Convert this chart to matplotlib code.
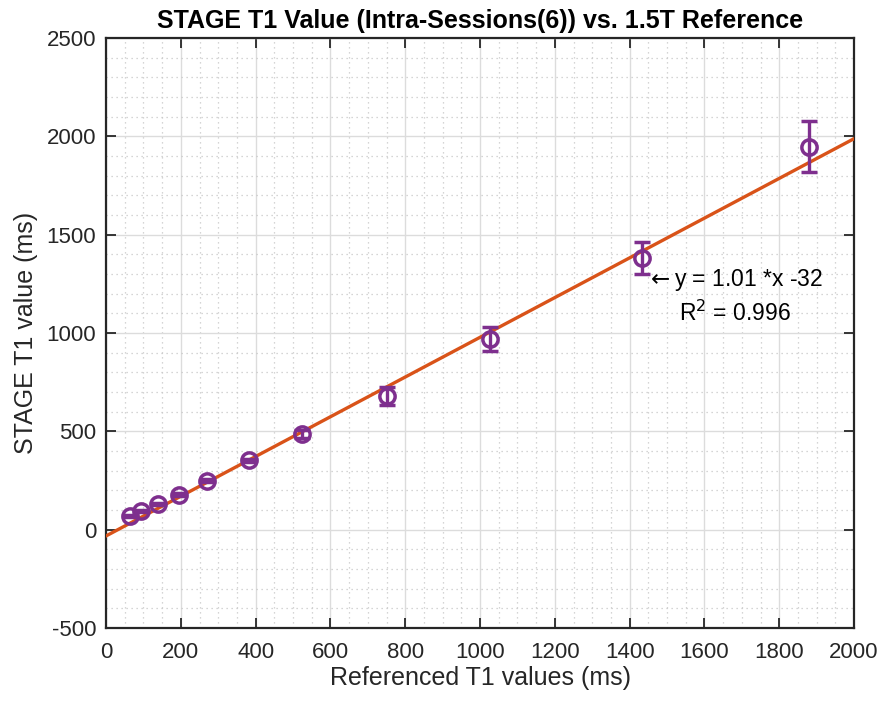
import numpy as np
import matplotlib.pyplot as plt
from matplotlib.ticker import MultipleLocator

# reference T1 (1.5T) vs STAGE T1 measured values
ref_t1 = [64, 94, 138, 194, 271, 383, 525, 751, 1028, 1433, 1879]
stage_t1 = [71, 93, 131, 178, 249, 352, 487, 681, 968, 1383, 1948]
stage_sd = [5, 5, 6, 6, 7, 8, 22, 45, 60, 82, 130]

fit_slope = 1.01
fit_icpt = -32
fit_x = [0, 2000]

purple = '#7E2F8E'
orange = '#D95319'

plt.rcParams['font.family'] = ['Liberation Sans', 'DejaVu Sans']
plt.rcParams['axes.unicode_minus'] = False

fig = plt.figure(figsize=(8.82, 7.02), dpi=100)
ax = fig.add_axes([106 / 882, 1 - 628 / 702, 748 / 882, 590 / 702])

fx = np.array(fit_x)
ax.plot(fx, fit_slope * fx + fit_icpt, color=orange, lw=2.4, zorder=3)
ax.errorbar(ref_t1, stage_t1, yerr=stage_sd, fmt='o', color=purple, mfc='none',
            ms=11, mew=2.5, elinewidth=2.4, capsize=5.5, capthick=2.4, zorder=4)

ax.text(1445, 1185, '$\\leftarrow$y = 1.01 *x -32\nR$^2$ = 0.996', fontsize=16.5,
        ha='left', va='center', multialignment='center', linespacing=1.35)

ax.set_xlim(0, 2000)
ax.set_ylim(-500, 2500)
ax.xaxis.set_major_locator(MultipleLocator(200))
ax.yaxis.set_major_locator(MultipleLocator(500))
ax.xaxis.set_minor_locator(MultipleLocator(50))
ax.yaxis.set_minor_locator(MultipleLocator(100))
ax.grid(True, which='major', color='#dcdcdc', lw=1.0)
ax.grid(True, which='minor', color='#c8c8c8', lw=0.9, ls=(0, (1, 3)))
ax.set_axisbelow(True)
ax.tick_params(which='major', direction='in', length=7, width=1.3, top=True,
               right=True, labelsize=16, colors='#262626', pad=7)
ax.tick_params(axis='x', pad=10)
ax.tick_params(which='minor', length=0)
for s in ax.spines.values():
    s.set_linewidth(1.6)
    s.set_color('#262626')

ax.set_xlabel('Referenced T1 values (ms)', fontsize=18, color='#262626', labelpad=2)
ax.set_ylabel('STAGE T1 value (ms)', fontsize=18, color='#262626', labelpad=6)
ax.set_title('STAGE T1 Value (Intra-Sessions(6)) vs. 1.5T Reference',
             fontsize=18, fontweight='bold', pad=7)

fig.savefig('out.png', dpi=100)
